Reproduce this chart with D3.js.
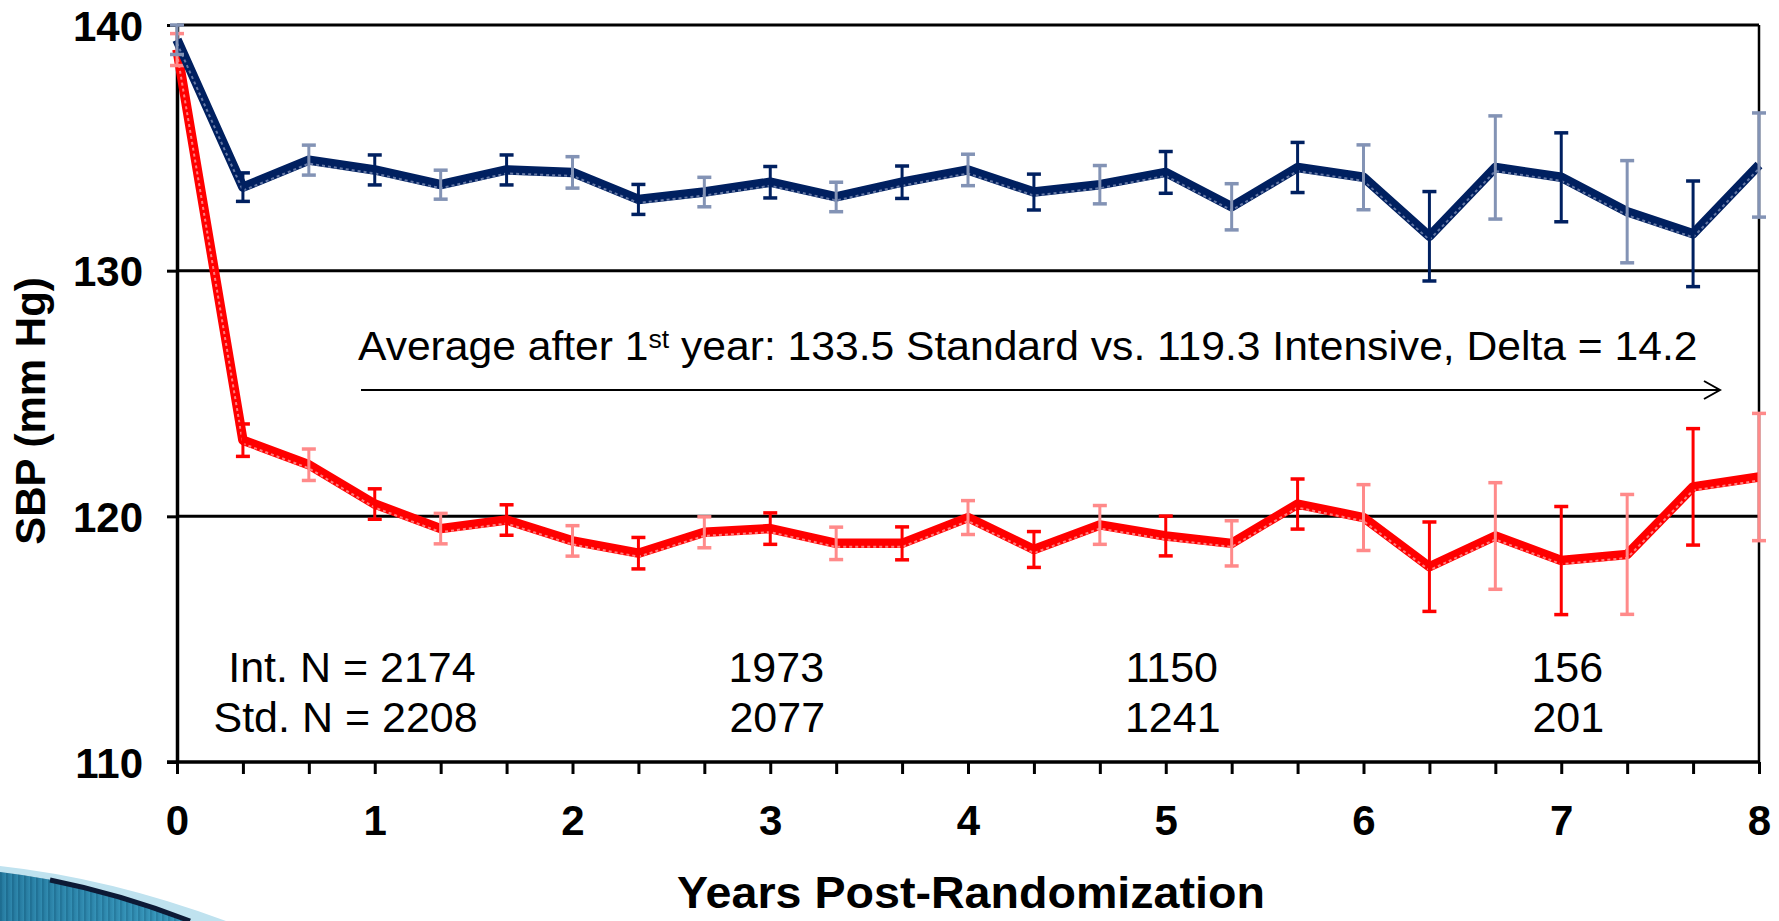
<!DOCTYPE html>
<html>
<head>
<meta charset="utf-8">
<script src="https://cdn.jsdelivr.net/npm/d3@7"></script>
<style>
  html, body { margin: 0; padding: 0; background: #fff; }
  svg { display: block; }
</style>
</head>
<body>
<svg id="chart" width="1779" height="921"></svg>
<script>
// ---------------- DATA ----------------
const months = [0, 4, 8, 12, 16, 20, 24, 28, 32, 36, 40, 44, 48, 52, 56, 60, 64, 68, 72, 76, 80, 84, 88, 92, 96];

// Standard arm (dark blue)
const stdMean = [139.4, 133.4, 134.5, 134.1, 133.5, 134.1, 134.0, 132.9, 133.2, 133.6, 133.0, 133.6,
                 134.1, 133.2, 133.5, 134.0, 132.6, 134.2, 133.8, 131.4, 134.2, 133.8, 132.4, 131.5, 134.3];
const stdErr  = [0.6, 0.58, 0.61, 0.61, 0.59, 0.61, 0.64, 0.61, 0.6, 0.64, 0.6, 0.66,
                 0.64, 0.73, 0.78, 0.85, 0.94, 1.02, 1.32, 1.82, 2.1, 1.81, 2.08, 2.15, 2.12];

// Intensive arm (red)
const intMean = [139.0, 123.1, 122.1, 120.5, 119.5, 119.85, 119.0, 118.5, 119.35, 119.5, 118.9, 118.9,
                 119.95, 118.65, 119.65, 119.2, 118.9, 120.5, 119.95, 117.95, 119.2, 118.2, 118.45, 121.2, 121.6];
const intErr  = [0.65, 0.66, 0.64, 0.62, 0.62, 0.62, 0.62, 0.64, 0.63, 0.64, 0.66, 0.67,
                 0.69, 0.73, 0.79, 0.81, 0.92, 1.02, 1.34, 1.82, 2.17, 2.2, 2.44, 2.37, 2.59];

const yTickValues = [110, 120, 130, 140];
const xTickLabels = [0, 1, 2, 3, 4, 5, 6, 7, 8];

const nYears = [3, 5, 7];
const intN = ["2174", "1973", "1150", "156"];
const stdN = ["2208", "2077", "1241", "201"];

const yTitle = "SBP (mm Hg)";
const xTitle = "Years Post-Randomization";
const noteMain = ["Average after 1", "st", " year: 133.5 Standard vs. 119.3 Intensive, Delta = 14.2"];

// ---------------- LAYOUT ----------------
const svg = d3.select("#chart");
const X0 = 177, X1 = 1759, Y0 = 762, Y1 = 25;
const x = d3.scaleLinear().domain([0, 8]).range([X0, X1]);
const y = d3.scaleLinear().domain([110, 140]).range([Y0, Y1]);
const FONT = "'Liberation Sans', Arial, Helvetica, sans-serif";

// decorative swoosh (template)
const defs = svg.append("defs");
const g1 = defs.append("linearGradient").attr("id", "teal").attr("x1", 0).attr("x2", 1).attr("y1", 0).attr("y2", 0);
g1.append("stop").attr("offset", "0%").attr("stop-color", "#1f6f95");
g1.append("stop").attr("offset", "100%").attr("stop-color", "#3c9ec2");
const pat = defs.append("pattern").attr("id", "stripes").attr("width", 6).attr("height", 10)
  .attr("patternUnits", "userSpaceOnUse");
pat.append("rect").attr("width", 6).attr("height", 10).attr("fill", "url(#teal)");
pat.append("rect").attr("width", 2).attr("height", 10).attr("fill", "#17607f").attr("opacity", 0.45);

const sw = svg.append("g");
sw.append("path").attr("d", "M0,866 Q110,878 226,921 L190,921 Q100,884 0,872 Z").attr("fill", "#bfe2ef");
sw.append("path").attr("d", "M0,872 Q100,884 190,921 L0,921 Z").attr("fill", "url(#teal)");
sw.append("path").attr("d", "M0,872 Q100,884 190,921 L0,921 Z").attr("fill", "url(#stripes)").attr("opacity", 0.5);
sw.append("path").attr("d", "M50,880 Q120,894 190,921").attr("fill", "none").attr("stroke", "#0d1a36").attr("stroke-width", 5);

// gridlines (120,130,140)
svg.append("g").selectAll("line").data(yTickValues.filter(v => v > 110)).join("line")
  .attr("x1", X0).attr("x2", X1).attr("y1", d => y(d)).attr("y2", d => y(d))
  .attr("stroke", "#000").attr("stroke-width", 3);

// right border
svg.append("line").attr("x1", X1).attr("x2", X1).attr("y1", Y1).attr("y2", Y0)
  .attr("stroke", "#000").attr("stroke-width", 2.5);

// x axis minor ticks
const xAxisTicks = d3.axisBottom(x).tickValues(months.map(m => m / 12)).tickSize(12).tickSizeOuter(0).tickFormat("");
const gx = svg.append("g").attr("transform", `translate(0,${Y0})`).call(xAxisTicks);
gx.select(".domain").attr("stroke-width", 3.5).attr("d", `M${X0 - 10},0H${X1}`);
gx.selectAll(".tick line").attr("stroke-width", 3);

// x axis labels
const xAxisLabels = d3.axisBottom(x).tickValues(xTickLabels).tickSize(0).tickPadding(43).tickFormat(d3.format("d"));
const gxl = svg.append("g").attr("transform", `translate(0,${Y0})`).call(xAxisLabels);
gxl.select(".domain").remove();
gxl.selectAll("text").attr("font-family", FONT).attr("font-size", 42).attr("font-weight", "bold").attr("fill", "#000");

// y axis
const yAxis = d3.axisLeft(y).tickValues(yTickValues).tickSize(10).tickSizeOuter(0).tickPadding(24).tickFormat(d3.format("d"));
const gy = svg.append("g").attr("transform", `translate(${X0},0)`).call(yAxis);
gy.select(".domain").attr("stroke-width", 3.5);
gy.selectAll(".tick line").attr("stroke-width", 3);
gy.selectAll("text").attr("font-family", FONT).attr("font-size", 42).attr("font-weight", "bold").attr("fill", "#000").attr("dy", "0.36em");

// helper: horizontally fit a text element to a target width
function fitWidth(sel, target, anchorX) {
  const w = sel.node().getBBox().width;
  const k = target / w;
  sel.attr("transform", `translate(${anchorX},0) scale(${k},1) translate(${-anchorX},0)`);
}

// axis titles
svg.append("text").attr("transform", "translate(45,411) rotate(-90)")
  .attr("text-anchor", "middle").attr("font-family", FONT).attr("font-size", 42).attr("font-weight", "bold").text(yTitle);

const xt = svg.append("text").attr("x", 971).attr("y", 908).attr("text-anchor", "middle")
  .attr("font-family", FONT).attr("font-size", 44).attr("font-weight", "bold").text(xTitle);
fitWidth(xt, 588, 971);

// annotation
const note = svg.append("text").attr("x", 358).attr("y", 360).attr("font-family", FONT).attr("font-size", 40).attr("fill", "#000");
note.append("tspan").text(noteMain[0]);
note.append("tspan").attr("font-size", 25).attr("dy", -12).text(noteMain[1]);
note.append("tspan").attr("dy", 12).text(noteMain[2]);
fitWidth(note, 1340, 358);

// arrow
defs.append("marker").attr("id", "arrowhead").attr("viewBox", "0 0 20 20").attr("refX", 18).attr("refY", 10)
  .attr("markerWidth", 20).attr("markerHeight", 20).attr("markerUnits", "userSpaceOnUse").attr("orient", "auto")
  .append("path").attr("d", "M2,1 L18,10 L2,19").attr("fill", "none").attr("stroke", "#000").attr("stroke-width", 2);
svg.append("line").attr("x1", 361).attr("x2", 1720).attr("y1", 390).attr("y2", 390)
  .attr("stroke", "#000").attr("stroke-width", 2).attr("marker-end", "url(#arrowhead)");

// N labels
const nl = svg.append("g").attr("font-family", FONT).attr("font-size", 43).attr("fill", "#000");
nl.append("text").attr("x", x(1.5) + 2).attr("y", 682).attr("text-anchor", "end").text("Int. N = " + intN[0]);
nl.append("text").attr("x", x(1.5) + 4).attr("y", 732).attr("text-anchor", "end").text("Std. N = " + stdN[0]);
nl.selectAll(".ni").data(nYears).join("text").attr("class", "ni")
  .attr("x", d => x(d) + 6).attr("y", 682).attr("text-anchor", "middle").text((d, i) => intN[i + 1]);
nl.selectAll(".ns").data(nYears).join("text").attr("class", "ns")
  .attr("x", d => x(d) + 7).attr("y", 732).attr("text-anchor", "middle").text((d, i) => stdN[i + 1]);

// series
const series = [
  { mean: intMean, err: intErr, dark: "#ff0000", light: "#ff8a8a", dot: "#ff9c9c" },
  { mean: stdMean, err: stdErr, dark: "#002060", light: "#8393b5", dot: "#7d8fb6" }
];

const line = d3.line().x((d) => x(d.t)).y(d => y(d.v));

series.forEach(s => {
  const pts = months.map((m, i) => ({ t: m / 12, v: s.mean[i], e: s.err[i], i }));
  const g = svg.append("g");
  g.append("path").datum(pts).attr("d", line).attr("fill", "none")
    .attr("stroke", s.dark).attr("stroke-width", 9.5).attr("stroke-linejoin", "round");
  g.append("path").datum(pts).attr("d", line).attr("fill", "none").attr("transform", "translate(0,3.5)")
    .attr("stroke", s.dot).attr("stroke-width", 2).attr("stroke-dasharray", "3 3").attr("opacity", 0.8);
  const eb = g.selectAll(".eb").data(pts).join("g").attr("class", "eb");
  const col = d => (d.i % 2 === 1 ? s.dark : s.light);
  eb.append("line").attr("x1", d => x(d.t)).attr("x2", d => x(d.t))
    .attr("y1", d => y(d.v - d.e)).attr("y2", d => y(d.v + d.e))
    .attr("stroke", col).attr("stroke-width", 3);
  eb.append("line").attr("x1", d => x(d.t) - 7).attr("x2", d => x(d.t) + 7)
    .attr("y1", d => y(d.v + d.e)).attr("y2", d => y(d.v + d.e))
    .attr("stroke", col).attr("stroke-width", 3.5);
  eb.append("line").attr("x1", d => x(d.t) - 7).attr("x2", d => x(d.t) + 7)
    .attr("y1", d => y(d.v - d.e)).attr("y2", d => y(d.v - d.e))
    .attr("stroke", col).attr("stroke-width", 3.5);
});
</script>
</body>
</html>
